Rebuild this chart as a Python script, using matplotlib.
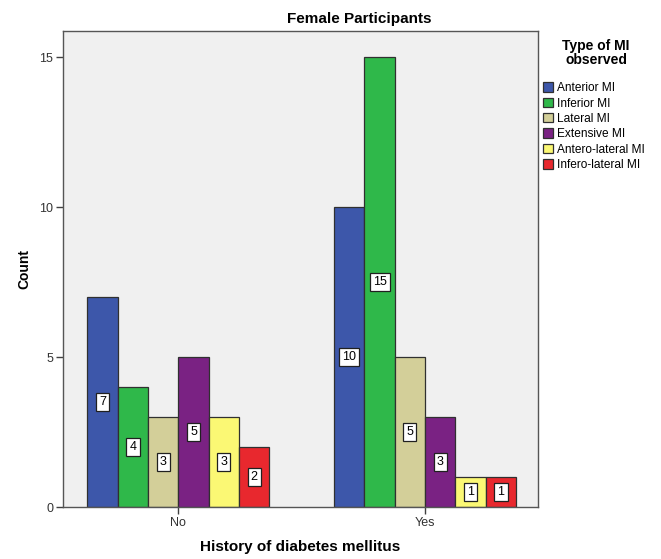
import numpy as np
import matplotlib.pyplot as plt

## DATA
groups = ['No', 'Yes']
mi_types = ['Anterior MI', 'Inferior MI', 'Lateral MI', 'Extensive MI',
            'Antero-lateral MI', 'Infero-lateral MI']
counts_no = [7, 4, 3, 5, 3, 2]
counts_yes = [10, 15, 5, 3, 1, 1]
colors = ['#3d57aa', '#2fb84a', '#d3cf99', '#7a2283', '#fbf874', '#e8282e']

plt.rcParams['font.family'] = ['Liberation Sans', 'DejaVu Sans']

fig = plt.figure(figsize=(6.61, 5.59), dpi=100)
fig.patch.set_facecolor('white')
ax = fig.add_axes([0.0953, 0.093, 0.7187, 0.8515])
ax.set_facecolor('#f0f0f0')

x = np.arange(len(groups))
width = 0.123
values = np.array([counts_no, counts_yes])

for i, (name, c) in enumerate(zip(mi_types, colors)):
    pos = x + (i - 2.5) * width
    bars = ax.bar(pos, values[:, i], width, color=c, edgecolor='#303030',
                  linewidth=0.9, label=name, zorder=2)
    for b, v in zip(bars, values[:, i]):
        ax.text(b.get_x() + b.get_width() / 2, v / 2, str(v),
                ha='center', va='center', fontsize=9, zorder=3,
                bbox=dict(boxstyle='square,pad=0.25', fc='white',
                          ec='#202020', lw=0.9))

ax.set_xlim(-0.468, 1.458)
ax.set_ylim(0, 15.87)
ax.set_xticks(x)
ax.set_xticklabels(groups, fontsize=9, color='#333333')
ax.set_yticks([0, 5, 10, 15])
ax.set_yticklabels(['0', '5', '10', '15'], fontsize=9, color='#333333')
ax.tick_params(axis='both', direction='out', length=5, width=1, color='#404040', pad=2)
for s in ax.spines.values():
    s.set_color('#555555')
    s.set_linewidth(1)

ax.set_ylabel('Count', fontsize=10, fontweight='bold', labelpad=6)
ax.set_xlabel('History of diabetes mellitus', fontsize=11, fontweight='bold', labelpad=8)
fig.text(0.543, 0.966, 'Female Participants', ha='center', va='center',
         fontsize=11, fontweight='bold')

# legend title drawn separately so the gap below it matches
fig.text(0.9017, 0.905, 'Type of MI\nobserved', ha='center', va='center',
         fontsize=10, fontweight='bold', linespacing=1.05, multialignment='center')
leg = fig.legend(*ax.get_legend_handles_labels(), loc='upper left',
                 bbox_to_anchor=(0.8215, 0.853), frameon=False,
                 fontsize=8.6, handlelength=0.85, handleheight=0.85,
                 handletextpad=0.35, labelspacing=0.28,
                 borderaxespad=0, borderpad=0)
for h in leg.legend_handles:
    h.set_edgecolor('#303030')

plt.savefig('out.png', dpi=100)
